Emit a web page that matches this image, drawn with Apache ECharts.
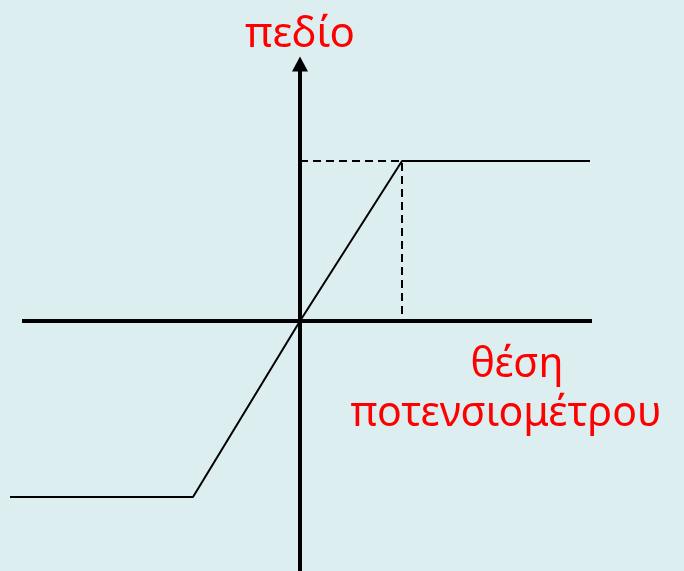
<!DOCTYPE html>
<html>
<head>
<meta charset="utf-8">
<script src="https://cdn.jsdelivr.net/npm/echarts@6/dist/echarts.min.js"></script>
<style>
    html, body { margin: 0; padding: 0; background: #ddeef1; }
    #chart { width: 684px; height: 571px; }
</style>
</head>
<body>
<div id="chart"></div>
<script>
// χαρακτηριστική: πεδίο ως προς θέση ποτενσιομέτρου
var positions = [-2.9, -1.07, 0, 1.02, 2.9];
var fieldValues = [-1.76, -1.76, 0, 1.6, 1.6];

// διακεκομμένες βοηθητικές γραμμές προς το σημείο κορεσμού
var guideX = [0, 1.02, 1.02];
var guideY = [1.6, 1.6, 0];

// ο οριζόντιος άξονας ξεκινά λίγο πιο δεξιά από την καμπύλη
var xAxisExtent = [-2.78, 2.92];

var yLabel = 'πεδίο';
var xLabelLines = ['θέση', 'ποτενσιομέτρου'];

window.onload = () => {
    drawFieldChart();
}

function drawFieldChart() {
    var myChart = echarts.init(document.getElementById('chart'));

    var curve = positions.map((x, i) => [x, fieldValues[i]]);
    var guide = guideX.map((x, i) => [x, guideY[i]]);
    var axisX = xAxisExtent.map(x => [x, 0]);

    var labelStyle = {
        fill: '#ff0000',
        fontFamily: 'Noto Sans',
        fontSize: 41,
        align: 'center',
        verticalAlign: 'top'
    };

    var option = {
        backgroundColor: '#ddeef1',
        animation: false,
        grid: {
            left: 10,
            right: 92,
            top: 64,
            bottom: 0
        },
        xAxis: {
            type: 'value',
            min: -2.9,
            max: 2.92,
            axisLine: { show: false },
            axisTick: { show: false },
            axisLabel: { show: false },
            splitLine: { show: false }
        },
        yAxis: {
            type: 'value',
            min: -2.5,
            max: 2.57,
            axisLine: {
                onZero: true,
                symbol: ['none', 'triangle'],
                symbolSize: [16, 15],
                lineStyle: { color: '#000', width: 4 }
            },
            axisTick: { show: false },
            axisLabel: { show: false },
            splitLine: { show: false }
        },
        graphic: [
            {
                type: 'text',
                x: 300,
                y: 14,
                style: Object.assign({}, labelStyle, {
                    text: yLabel,
                    fontSize: 42
                })
            },
            {
                type: 'text',
                x: 517,
                y: 345,
                style: Object.assign({}, labelStyle, { text: xLabelLines[0] })
            },
            {
                type: 'text',
                x: 506,
                y: 394,
                style: Object.assign({}, labelStyle, { text: xLabelLines[1] })
            }
        ],
        series: [
            {
                type: 'line',
                data: axisX,
                showSymbol: false,
                silent: true,
                lineStyle: { color: '#000', width: 4 },
                z: 1
            },
            {
                type: 'line',
                data: guide,
                showSymbol: false,
                lineStyle: { color: '#000', width: 2, type: [8, 5] },
                z: 2
            },
            {
                type: 'line',
                data: curve,
                showSymbol: false,
                lineStyle: { color: '#000', width: 2 },
                z: 3
            }
        ]
    };

    myChart.setOption(option);
}
</script>
</body>
</html>
